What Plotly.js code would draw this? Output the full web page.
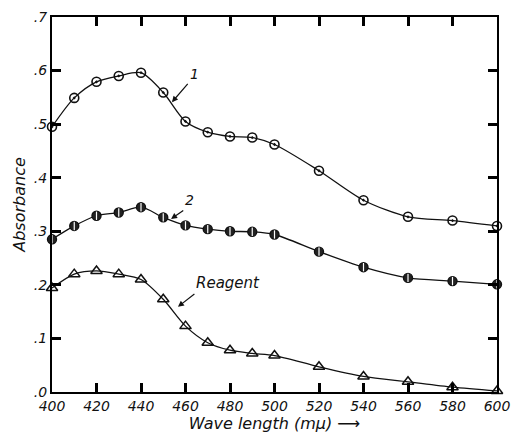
<!DOCTYPE html>
<html><head><meta charset="utf-8">
<script src="https://cdn.plot.ly/plotly-3.0.1.min.js"></script>
<style>body{margin:0;background:#fff}#c{width:514px;height:437px}</style>
</head><body><div id="c"></div>
<script>
const wavelengths = [400,410,420,430,440,450,460,470,480,490,500,520,540,560,580,600];
const curve1 = [0.495,0.549,0.579,0.590,0.596,0.559,0.505,0.485,0.477,0.475,0.462,0.413,0.358,0.327,0.320,0.310];
const curve2 = [0.285,0.310,0.329,0.335,0.345,0.326,0.311,0.304,0.300,0.299,0.294,0.262,0.233,0.213,0.207,0.201];
const reagent = [0.194,0.220,0.226,0.220,0.210,0.173,0.123,0.092,0.078,0.072,0.068,0.047,0.029,0.019,0.009,0.002];
const xTicks = [400,420,440,460,480,500,520,540,560,580,600];
const yTicks = [0,0.1,0.2,0.3,0.4,0.5,0.6,0.7];
const yTickText = ['.0','.1','.2','.3','.4','.5','.6','.7'];

const fnt = {family:'DejaVu Sans, sans-serif', color:'#111111'};
const line = {color:'#111111', width:1.3, shape:'spline', smoothing:0.8};
const traces = [
  {x:wavelengths, y:curve1, mode:'lines+markers', line:line, cliponaxis:false,
   marker:{symbol:'circle-open-dot', size:9, color:'#111111', line:{width:1.6, color:'#111111'}}},
  {x:wavelengths, y:curve2, mode:'lines+markers', line:line, cliponaxis:false,
   marker:{symbol:'circle', size:9, color:'#222222', line:{width:1.4, color:'#111111'}}},
  {x:wavelengths, y:curve2, mode:'markers', hoverinfo:'skip', cliponaxis:false,
   marker:{symbol:'line-ns', size:6, color:'#ffffff', line:{width:1.2, color:'#ffffff'}}},
  {x:wavelengths, y:reagent, mode:'lines+markers', line:line, cliponaxis:false,
   marker:{symbol:'triangle-up-open', size:10, color:'#111111', line:{width:1.5, color:'#111111'}}}
];
const axisCommon = {
  ticks:'inside', ticklen:9, tickwidth:2.5, tickcolor:'#000000',
  showline:true, linewidth:2, linecolor:'#000000', mirror:'ticks', showgrid:false, zeroline:false,
  tickfont:{family:'DejaVu Sans, sans-serif', color:'#111111', size:14}
};
const layout = {
  width:514, height:437, showlegend:false,
  paper_bgcolor:'#ffffff', plot_bgcolor:'#ffffff',
  margin:{l:52, r:17, t:17, b:45},
  xaxis:Object.assign({}, axisCommon, {range:[400,600], tickmode:'array', tickvals:xTicks, ticktext:xTicks.map(v=>'<i>'+v+'</i>'),
    title:{text:'<i>Wave length (mμ) ⟶</i>', font:Object.assign({size:16}, fnt), standoff:2}}),
  yaxis:Object.assign({}, axisCommon, {range:[0,0.7], tickmode:'array', tickvals:yTicks, ticktext:yTickText.map(v=>'<i>'+v+'</i>'),
    title:{text:'<i>Absorbance</i>', font:Object.assign({size:16}, fnt), standoff:4}}),
  annotations:[
    {x:453.9, y:0.541, ax:461, ay:0.575, axref:'x', ayref:'y', text:'<i>1</i>', showarrow:true,
     arrowhead:2, arrowsize:1, arrowwidth:1.2, arrowcolor:'#111111', font:Object.assign({size:14}, fnt), xanchor:'left', yanchor:'bottom'},
    {x:453.5, y:0.323, ax:459, ay:0.339, axref:'x', ayref:'y', text:'<i>2</i>', showarrow:true,
     arrowhead:2, arrowsize:1, arrowwidth:1.2, arrowcolor:'#111111', font:Object.assign({size:14}, fnt), xanchor:'left', yanchor:'bottom'},
    {x:456.6, y:0.159, ax:464, ay:0.183, axref:'x', ayref:'y', text:'<i>Reagent</i>', showarrow:true,
     arrowhead:2, arrowsize:1, arrowwidth:1.2, arrowcolor:'#111111', font:Object.assign({size:15}, fnt), xanchor:'left', yanchor:'bottom'}
  ]
};
Plotly.newPlot('c', traces, layout, {displayModeBar:false});
</script></body></html>
